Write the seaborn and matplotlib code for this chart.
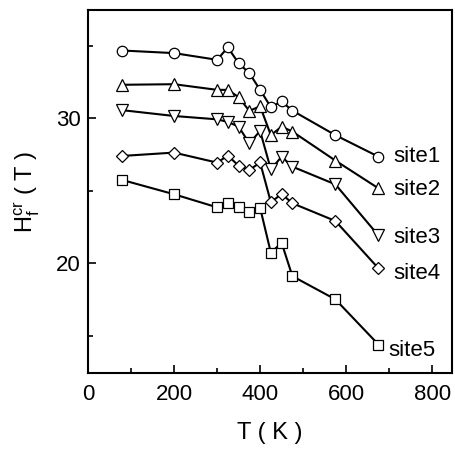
import matplotlib
matplotlib.use("Agg")
import matplotlib.pyplot as plt
import seaborn as sns
import pandas as pd

T = [80, 200, 300, 325, 350, 375, 400, 425, 450, 475, 575, 675]
site1 = [34.66, 34.48, 34.02, 34.87, 33.79, 33.10, 31.95, 30.76, 31.15, 30.52, 28.83, 27.35]
site2 = [32.30, 32.34, 31.95, 31.95, 31.45, 30.50, 30.82, 28.83, 29.42, 29.08, 27.08, 25.17]
site3 = [30.55, 30.15, 29.92, 29.74, 29.42, 28.27, 29.12, 26.47, 27.35, 26.66, 25.44, 21.92]
site4 = [27.40, 27.63, 26.94, 27.42, 26.73, 26.43, 26.95, 24.21, 24.78, 24.14, 22.92, 19.66]
site5 = [25.74, 24.76, 23.86, 24.14, 23.86, 23.52, 23.83, 20.73, 21.42, 19.12, 17.52, 14.41]
sites = ["site1", "site2", "site3", "site4", "site5"]
values = [site1, site2, site3, site4, site5]
label_y = [27.33, 25.06, 21.80, 19.32, 14.00]
markers = ["o", "^", "v", "D", "s"]
msizes = [7.5, 8, 8, 6, 7]

df = pd.DataFrame({
    "T": T * len(sites),
    "H": [v for vals in values for v in vals],
    "site": [s for s in sites for _ in T],
})

sns.set_style("ticks")
plt.rcParams["font.family"] = ["Liberation Sans", "DejaVu Sans"]
plt.rcParams["mathtext.fontset"] = "custom"
plt.rcParams["mathtext.rm"] = "Liberation Sans"
plt.rcParams["mathtext.it"] = "Liberation Sans:italic"
for k in ["text.color", "axes.labelcolor", "xtick.color", "ytick.color", "axes.edgecolor"]:
    plt.rcParams[k] = "black"

fig = plt.figure(figsize=(4.55, 4.49), dpi=100)
ax = fig.add_axes([88 / 455, 1 - 373 / 449, (452 - 88) / 455, (373 - 10) / 449])

for s, m, ms in zip(sites, markers, msizes):
    sub = df[df["site"] == s]
    sns.lineplot(data=sub, x="T", y="H", ax=ax, color="black", linewidth=1.5,
                 marker=m, markersize=ms, markerfacecolor="white",
                 markeredgecolor="black", markeredgewidth=0.9, legend=False)

for s, ly in zip(sites, label_y):
    lx = 698 if s == "site5" else 709
    ax.text(lx, ly, s, fontsize=16, va="center", ha="left", color="black")

ax.set_xlim(0, 846)
ax.set_ylim(12.45, 37.45)
ax.set_xticks([0, 200, 400, 600, 800])
ax.set_xticks([100, 300, 500, 700], minor=True)
ax.set_yticks([20, 30])
ax.set_yticks([15, 25, 35], minor=True)
ax.tick_params(which="both", direction="in", labelsize=16, width=1.2, colors="black")
ax.tick_params(which="major", length=6)
ax.tick_params(which="minor", length=3.5)
ax.tick_params(axis="x", pad=8)
ax.tick_params(axis="y", pad=5)
for sp in ax.spines.values():
    sp.set_linewidth(1.5)
    sp.set_visible(True)
    sp.set_color("black")

ax.set_xlabel("T ( K )", fontsize=17, labelpad=12, color="black")
ax.set_ylabel(r"$\mathrm{H_f^{cr}}$ ( T )", fontsize=17, labelpad=10, color="black")

fig.savefig("out.png", dpi=100)
